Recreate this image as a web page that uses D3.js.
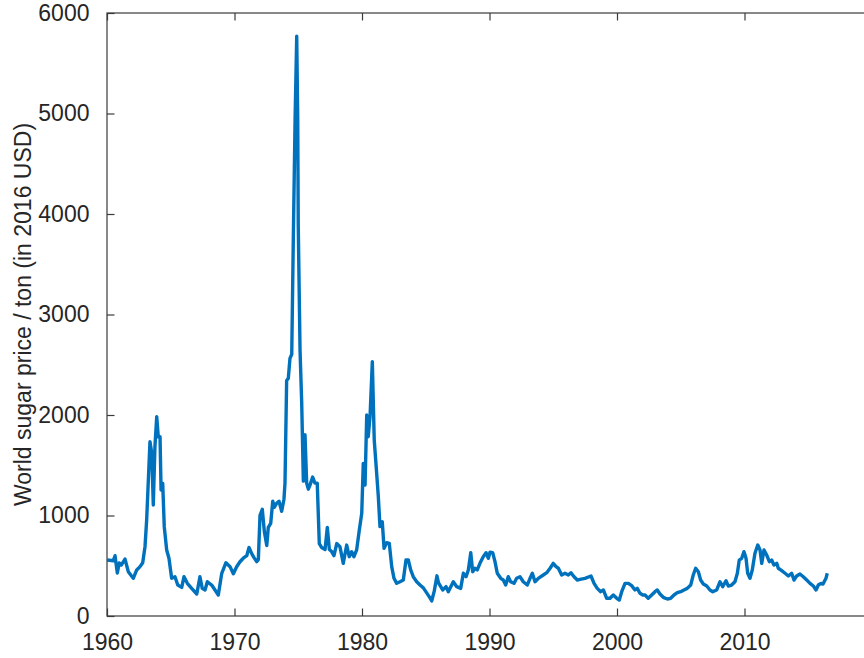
<!DOCTYPE html>
<html>
<head>
<meta charset="utf-8">
<script src="https://cdn.jsdelivr.net/npm/d3@7.9.0/dist/d3.min.js"></script>
<style>
  html, body { margin: 0; padding: 0; background: #fff; }
  svg { display: block; font-family: "Liberation Sans", Arial, sans-serif; }
</style>
</head>
<body>
<div id="chart"></div>
<script>
// sugar price series (year, USD 2016 / ton)
const years = [
  1960.02, 1960.49, 1960.63, 1960.81, 1960.96, 1961.12, 1961.41, 1961.67, 1962.06, 1962.33,
  1962.59, 1962.80, 1962.98, 1963.11, 1963.37, 1963.51, 1963.63, 1963.76, 1963.90, 1964.02,
  1964.16, 1964.24, 1964.37, 1964.49, 1964.68, 1964.86, 1965.07, 1965.33, 1965.55, 1965.86,
  1966.04, 1966.30, 1966.64, 1967.04, 1967.29, 1967.47, 1967.69, 1967.87, 1968.21, 1968.47,
  1968.73, 1969.00, 1969.33, 1969.65, 1969.91, 1970.17, 1970.43, 1970.69, 1970.96, 1971.14,
  1971.35, 1971.53, 1971.74, 1971.87, 1972.00, 1972.18, 1972.34, 1972.53, 1972.65, 1972.84,
  1973.00, 1973.12, 1973.31, 1973.49, 1973.70, 1973.88, 1973.96, 1974.09, 1974.22, 1974.35,
  1974.49, 1974.61, 1974.75, 1974.88, 1974.96, 1975.00, 1975.14, 1975.27, 1975.40, 1975.53,
  1975.66, 1975.79, 1975.92, 1976.13, 1976.31, 1976.49, 1976.65, 1976.84, 1977.10, 1977.28,
  1977.44, 1977.62, 1977.80, 1978.02, 1978.27, 1978.53, 1978.80, 1979.00, 1979.19, 1979.37,
  1979.58, 1979.79, 1979.98, 1980.10, 1980.24, 1980.37, 1980.49, 1980.63, 1980.81, 1980.96,
  1981.15, 1981.28, 1981.41, 1981.59, 1981.73, 1981.94, 1982.14, 1982.33, 1982.51, 1982.72,
  1982.98, 1983.24, 1983.45, 1983.63, 1983.82, 1984.02, 1984.29, 1984.55, 1984.81, 1985.02,
  1985.28, 1985.47, 1985.67, 1985.88, 1986.00, 1986.33, 1986.59, 1986.77, 1987.16, 1987.43,
  1987.74, 1987.95, 1988.16, 1988.34, 1988.53, 1988.68, 1988.86, 1989.04, 1989.25, 1989.51,
  1989.73, 1989.91, 1990.04, 1990.25, 1990.43, 1990.61, 1990.88, 1991.08, 1991.27, 1991.47,
  1991.66, 1991.92, 1992.13, 1992.39, 1992.65, 1992.96, 1993.18, 1993.36, 1993.57, 1993.83,
  1994.22, 1994.49, 1994.75, 1995.00, 1995.22, 1995.40, 1995.66, 1995.92, 1996.18, 1996.39,
  1996.63, 1996.89, 1997.10, 1997.49, 1997.96, 1998.20, 1998.45, 1998.72, 1998.93, 1999.19,
  1999.45, 1999.71, 1999.98, 2000.18, 2000.37, 2000.63, 2000.89, 2001.15, 2001.41, 2001.59,
  2001.80, 2002.02, 2002.20, 2002.45, 2002.72, 2002.98, 2003.16, 2003.37, 2003.63, 2003.95,
  2004.21, 2004.47, 2004.73, 2005.00, 2005.25, 2005.51, 2005.78, 2005.98, 2006.17, 2006.38,
  2006.56, 2006.77, 2007.04, 2007.29, 2007.51, 2007.82, 2008.08, 2008.29, 2008.55, 2008.73,
  2008.99, 2009.25, 2009.44, 2009.59, 2009.78, 2009.96, 2010.12, 2010.25, 2010.43, 2010.61,
  2010.82, 2011.04, 2011.22, 2011.35, 2011.53, 2011.74, 2011.95, 2012.13, 2012.31, 2012.53,
  2012.65, 2012.92, 2013.18, 2013.44, 2013.70, 2013.88, 2014.09, 2014.35, 2014.61, 2014.88,
  2015.14, 2015.40, 2015.61, 2015.79, 2016.00, 2016.16, 2016.39, 2016.49
];
const prices = [
  557, 550, 600, 428, 527, 507, 567, 441, 375, 458,
  491, 530, 690, 955, 1734, 1622, 1104, 1685, 1983, 1784,
  1784, 1254, 1320, 889, 657, 574, 375, 391, 308, 285,
  391, 325, 275, 219, 391, 275, 259, 341, 308, 259,
  209, 425, 530, 491, 420, 490, 540, 575, 600, 681,
  621, 581, 541, 561, 1002, 1062, 842, 701, 882, 922,
  1142, 1082, 1122, 1142, 1042, 1162, 1323, 2343, 2364, 2564,
  2604, 3725, 4927, 5769, 4927, 3886, 2644, 2123, 1342, 1803,
  1322, 1262, 1302, 1382, 1322, 1322, 721, 681, 661, 882,
  661, 641, 601, 721, 690, 524, 706, 590, 640, 590,
  657, 856, 1022, 1519, 1303, 2000, 1784, 1983, 2531, 1751,
  1420, 1187, 889, 938, 674, 729, 723, 491, 375, 325,
  341, 358, 557, 557, 458, 391, 341, 308, 280, 240,
  190, 150, 250, 400, 330, 259, 292, 242, 341, 292,
  275, 425, 391, 458, 630, 441, 475, 458, 524, 590,
  630, 574, 634, 630, 541, 425, 375, 358, 308, 391,
  341, 325, 375, 391, 341, 308, 375, 425, 341, 375,
  408, 431, 475, 524, 491, 475, 408, 425, 408, 431,
  391, 358, 365, 375, 398, 325, 275, 242, 259, 176,
  176, 209, 176, 159, 242, 325, 325, 302, 259, 275,
  226, 209, 209, 176, 209, 242, 259, 219, 186, 169,
  176, 209, 232, 242, 259, 275, 308, 408, 475, 441,
  358, 318, 298, 259, 242, 259, 341, 292, 351, 298,
  308, 341, 425, 557, 574, 640, 574, 425, 375, 458,
  624, 706, 657, 524, 657, 607, 541, 557, 507, 524,
  475, 451, 425, 398, 425, 358, 398, 418, 391, 358,
  325, 298, 259, 308, 325, 318, 375, 425
];
const xTicks = [1960, 1970, 1980, 1990, 2000, 2010];
const yTicks = [0, 1000, 2000, 3000, 4000, 5000, 6000];
const yLabel = 'World sugar price / ton (in 2016 USD)';

const width = 864;
const height = 658;
const margin = { top: 13, left: 107, bottom: 42 };
const plotW = 765; // right edge of the box falls past the window
const textColor = '#262626';
const axisColor = '#3a3a3a';
const tickLen = 7.5;
const fontSize = 23;

const data = years.map((y, i) => ({ year: y, price: prices[i] }));

const svg = d3.select('#chart')
  .append('svg')
  .attr('width', width)
  .attr('height', height);

const x = d3.scaleLinear()
  .domain([1960, 2020])
  .range([margin.left, margin.left + plotW]);

const y = d3.scaleLinear()
  .domain([0, 6000])
  .range([height - margin.bottom, margin.top]);

// the series
const line = d3.line()
  .x((d) => x(d.year))
  .y((d) => y(d.price));

svg.append('path')
  .datum(data)
  .attr('fill', 'none')
  .attr('stroke', '#0072BD')
  .attr('stroke-width', 3.4)
  .attr('stroke-linejoin', 'round')
  .attr('d', line);

// matlab-style box with inward ticks on all sides
svg.append('rect')
  .attr('x', x(1960))
  .attr('y', y(6000))
  .attr('width', x(2020) - x(1960))
  .attr('height', y(0) - y(6000))
  .attr('fill', 'none')
  .attr('stroke', axisColor)
  .attr('stroke-width', 1.2);

const xAxisBottom = svg.append('g')
  .attr('transform', `translate(0, ${y(0)})`)
  .call(d3.axisBottom(x).tickValues(xTicks).tickFormat(d3.format('d'))
    .tickSizeInner(-tickLen).tickSizeOuter(0).tickPadding(tickLen + 10));

const xAxisTop = svg.append('g')
  .attr('transform', `translate(0, ${y(6000)})`)
  .call(d3.axisTop(x).tickValues(xTicks).tickFormat('')
    .tickSizeInner(-tickLen).tickSizeOuter(0));

const yAxisLeft = svg.append('g')
  .attr('transform', `translate(${x(1960)}, 0)`)
  .call(d3.axisLeft(y).tickValues(yTicks).tickFormat(d3.format('d'))
    .tickSizeInner(-tickLen).tickSizeOuter(0).tickPadding(tickLen + 10));

[xAxisBottom, xAxisTop, yAxisLeft].forEach((g) => {
  g.select('.domain').remove();
  g.selectAll('.tick line').attr('stroke', axisColor).attr('stroke-width', 1.2);
  g.selectAll('.tick text')
    .attr('fill', textColor)
    .style('font-size', fontSize + 'px')
    .style('font-family', '"Liberation Sans", Arial, sans-serif');
});

xAxisBottom.selectAll('.tick text').attr('dy', '0.71em');

// y axis title
svg.append('text')
  .attr('transform', `translate(31, ${(y(0) + y(6000)) / 2}) rotate(-90)`)
  .attr('text-anchor', 'middle')
  .attr('fill', textColor)
  .style('font-size', fontSize + 'px')
  .text(yLabel);
</script>
</body>
</html>
